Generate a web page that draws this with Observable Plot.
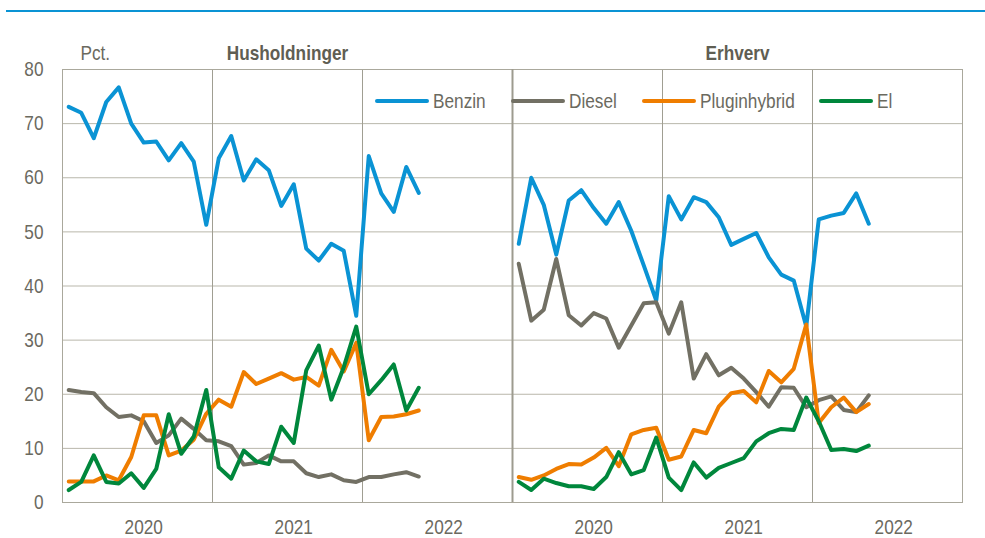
<!DOCTYPE html>
<html><head><meta charset="utf-8">
<script src="https://cdn.jsdelivr.net/npm/d3@7"></script>
<script src="https://cdn.jsdelivr.net/npm/@observablehq/plot@0.6"></script>
<style>
body{margin:0;background:#fff;}
#wrap{position:relative;width:985px;height:538px;overflow:hidden;font-family:"Liberation Sans Narrow","Arial Narrow","Liberation Sans",Arial,sans-serif;}
#wrap svg{position:absolute;left:0;top:0;}
#rule{position:absolute;left:6px;right:0;top:10px;height:2px;background:#0a93d4;}
#legend{position:absolute;top:90px;left:375px;display:flex;align-items:center;font-size:21px;line-height:22px;color:#6b6a5f;}
.item{display:flex;align-items:center;margin-right:25px;}
.sw{width:54px;height:4px;border-radius:2px;margin-right:4px;}
.lt{display:inline-block;transform:scaleX(0.82);transform-origin:left center;white-space:nowrap;}
</style></head>
<body>
<div id="wrap">
  <div id="rule"></div>
  <div id="chart"></div>
  <div id="legend"></div>
</div>
<script>
const sectors = ["Husholdninger", "Erhverv"];
const fuels = ["Benzin", "Diesel", "Pluginhybrid", "El"];
const colors = ["#0a93d4", "#727064", "#ef7d00", "#00873c"];
const months = ["2020-01","2020-02","2020-03","2020-04","2020-05","2020-06","2020-07","2020-08","2020-09","2020-10","2020-11","2020-12",
  "2021-01","2021-02","2021-03","2021-04","2021-05","2021-06","2021-07","2021-08","2021-09","2021-10","2021-11","2021-12",
  "2022-01","2022-02","2022-03","2022-04","2022-05"];
const yTicks = [0, 10, 20, 30, 40, 50, 60, 70, 80];
const xTickLabels = ["2020", "2021", "2022"];

const husBenzin = [73.1, 72.0, 67.3, 74.0, 76.7, 70.0, 66.5, 66.7, 63.2, 66.4, 63.0, 51.3, 63.6, 67.7, 59.5, 63.4, 61.4, 54.8, 58.8, 46.9, 44.7, 47.8, 46.5, 34.5, 64.0, 57.1, 53.7, 62.0, 57.2];
const husDiesel = [20.8, 20.4, 20.2, 17.6, 15.8, 16.1, 15.0, 11.0, 12.4, 15.5, 13.6, 11.5, 11.3, 10.4, 7.0, 7.3, 8.7, 7.6, 7.6, 5.4, 4.7, 5.2, 4.1, 3.8, 4.7, 4.7, 5.2, 5.6, 4.8];
const husPlugin = [3.9, 3.9, 3.9, 5.0, 4.1, 8.4, 16.1, 16.1, 8.7, 9.6, 11.6, 16.4, 19.0, 17.7, 24.1, 21.9, 22.9, 23.9, 22.7, 23.2, 21.6, 28.2, 24.2, 29.5, 11.5, 15.8, 15.9, 16.3, 17.0];
const husEl = [2.3, 3.8, 8.7, 3.8, 3.5, 5.4, 2.7, 6.2, 16.3, 9.0, 12.2, 20.8, 6.5, 4.4, 9.6, 7.6, 7.1, 14.0, 11.0, 24.4, 29.0, 19.0, 25.0, 32.5, 20.0, 22.6, 25.5, 17.0, 21.2];

const erhBenzin = [47.8, 60.0, 55.0, 45.8, 55.8, 57.7, 54.4, 51.5, 55.5, 50.2, 43.8, 37.3, 56.6, 52.3, 56.4, 55.5, 52.7, 47.6, 48.7, 49.8, 45.3, 42.1, 41.0, 32.5, 52.3, 53.0, 53.5, 57.1, 51.5];
const erhDiesel = [44.1, 33.6, 35.6, 45.0, 34.6, 32.7, 35.0, 34.0, 28.6, 32.7, 36.8, 37.0, 31.2, 37.0, 22.9, 27.4, 23.5, 24.9, 22.9, 20.4, 17.7, 21.3, 21.2, 17.6, 18.9, 19.6, 17.1, 16.7, 19.8];
const erhPlugin = [4.7, 4.2, 5.0, 6.2, 7.1, 7.0, 8.3, 10.1, 6.7, 12.6, 13.4, 13.8, 7.9, 8.5, 13.4, 12.8, 17.7, 20.2, 20.6, 18.5, 24.3, 22.2, 24.7, 32.9, 14.7, 17.6, 19.4, 16.7, 18.2];
const erhEl = [3.8, 2.3, 4.4, 3.6, 3.0, 3.0, 2.5, 4.7, 9.3, 5.2, 6.0, 12.0, 4.6, 2.3, 7.4, 4.6, 6.4, 7.3, 8.2, 11.3, 12.8, 13.6, 13.4, 19.4, 15.0, 9.7, 9.9, 9.5, 10.5];

const series = {
  Husholdninger: {Benzin: husBenzin, Diesel: husDiesel, Pluginhybrid: husPlugin, El: husEl},
  Erhverv: {Benzin: erhBenzin, Diesel: erhDiesel, Pluginhybrid: erhPlugin, El: erhEl}
};

// month "YYYY-MM" -> decimal year at mid-month
const monthPos = m => { const [y, mo] = m.split("-").map(Number); return y + (mo - 0.5) / 12; };

const rows = [];
for (const s of sectors) for (const f of fuels) series[s][f].forEach((v, i) => rows.push({sector: s, fuel: f, x: monthPos(months[i]), value: v}));

const xTickPos = xTickLabels.map(l => monthPos(l + "-07"));
const font = '"Liberation Sans Narrow","Arial Narrow","Liberation Sans",Arial,sans-serif';

const chart = Plot.plot({
  width: 985, height: 538,
  marginLeft: 62, marginRight: 23, marginTop: 69, marginBottom: 36,
  style: {fontFamily: font, fontSize: "21px", color: "#6b6a5f", background: "transparent", overflow: "visible"},
  fx: {domain: sectors, padding: 0, axis: null},
  x: {domain: [2020, 2023], axis: null},
  y: {domain: [0, 80], axis: null},
  color: {domain: fuels, range: colors},
  marks: [
    Plot.ruleY(yTicks.filter(v => v > 0 && v < 80), {stroke: "#b9b7ab", strokeWidth: 1}),
    Plot.ruleX([2021, 2022], {stroke: "#a09e92", strokeWidth: 1}),
    Plot.frame({stroke: "#aaa89c", strokeWidth: 1}),
    Plot.ruleX([{sector: "Erhverv", x: 2020}], {x: "x", fx: "sector", stroke: "#9d9b8f", strokeWidth: 2}),
    Plot.lineY(rows, {x: "x", y: "value", z: "fuel", stroke: "fuel", fx: "sector", strokeWidth: 4, strokeLinejoin: "round", strokeLinecap: "round"}),
    Plot.axisY({ticks: yTicks, tickSize: 0, tickPadding: 19, label: null, fill: "#6b6a5f"}),
    Plot.axisX({ticks: xTickPos, tickFormat: (d, i) => xTickLabels[i], tickSize: 0, tickPadding: 17, label: null, fill: "#6b6a5f"}),
    Plot.text(sectors, {fx: d => d, text: d => d, frameAnchor: "top", dy: -24, fontWeight: "bold", fill: "#5f5e53"}),
    Plot.text(["Pct."], {fx: () => "Husholdninger", text: d => d, frameAnchor: "top-left", textAnchor: "start", dx: 18, dy: -24, fill: "#6b6a5f"})
  ]
});
document.getElementById("chart").appendChild(chart);

// condense text horizontally around its anchor point (narrow typeface look)
chart.querySelectorAll("text").forEach(el => {
  const b = el.getBBox();
  const anchor = getComputedStyle(el).textAnchor;
  const ax = anchor === "middle" ? b.x + b.width / 2 : anchor === "end" ? b.x + b.width : b.x;
  const t = el.getAttribute("transform") || "";
  el.setAttribute("transform", `${t} translate(${ax},0) scale(0.82,1) translate(${-ax},0)`);
});

const legend = document.getElementById("legend");
fuels.forEach((f, i) => {
  const item = document.createElement("div");
  item.className = "item";
  const sw = document.createElement("span");
  sw.className = "sw";
  sw.style.background = colors[i];
  const t = document.createElement("span");
  t.className = "lt";
  t.textContent = f;
  item.appendChild(sw); item.appendChild(t);
  legend.appendChild(item);
  const full = t.offsetWidth;
  t.style.marginRight = (full * 0.82 - full) + "px";
});
</script>
</body></html>
